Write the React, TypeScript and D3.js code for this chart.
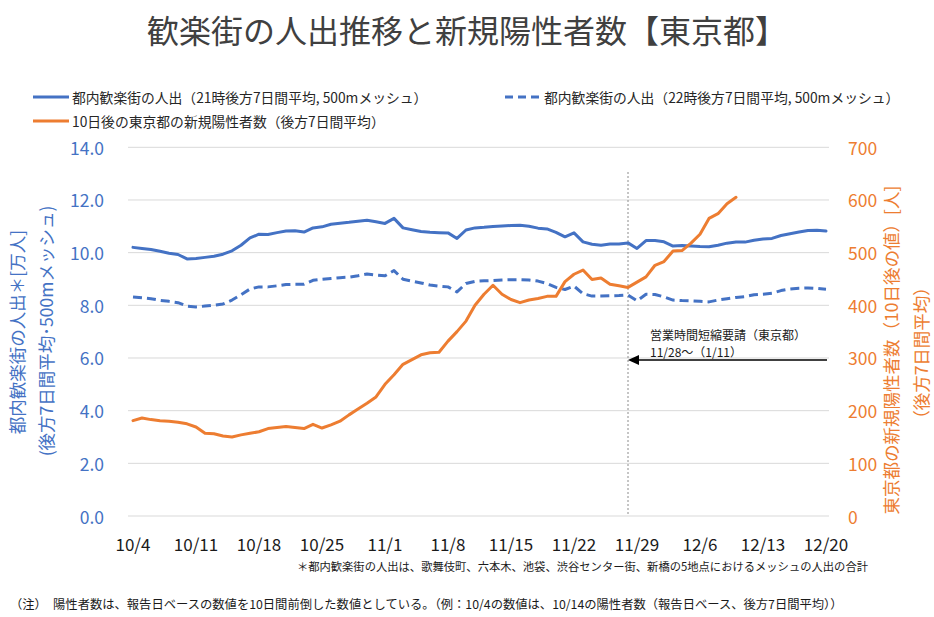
import React from "react";
import * as d3 from "d3";

// ---- data (daily, starting 10/4) ----
const xTickLabels = ["10/4", "10/11", "10/18", "10/25", "11/1", "11/8", "11/15", "11/22", "11/29", "12/6", "12/13", "12/20"];
const leftTicks = [0, 2, 4, 6, 8, 10, 12, 14];
const rightTicks = [0, 100, 200, 300, 400, 500, 600, 700];

// 都内歓楽街の人出（21時後方7日間平均）[万人] 10/4 .. 12/20
const crowd21 = [
  10.2, 10.16, 10.12, 10.05, 9.98, 9.93, 9.76, 9.78, 9.82, 9.86,
  9.94, 10.07, 10.28, 10.56, 10.7, 10.69, 10.76, 10.82, 10.83, 10.78,
  10.94, 10.98, 11.08, 11.12, 11.15, 11.19, 11.23, 11.17, 11.11, 11.3,
  10.94, 10.87, 10.8, 10.77, 10.76, 10.75, 10.54, 10.86, 10.94, 10.96,
  10.99, 11.01, 11.03, 11.04, 11.0, 10.93, 10.9, 10.77, 10.6, 10.75,
  10.41, 10.32, 10.28, 10.33, 10.33, 10.37, 10.16, 10.46, 10.46, 10.41,
  10.25, 10.27, 10.25, 10.23, 10.22, 10.28, 10.36, 10.4, 10.4, 10.47,
  10.52, 10.54, 10.65, 10.72, 10.78, 10.84, 10.85, 10.82,
];

// 都内歓楽街の人出（22時後方7日間平均）[万人]
const crowd22 = [
  8.32, 8.29, 8.25, 8.19, 8.15, 8.1, 7.97, 7.94, 7.97, 8.0,
  8.05, 8.2, 8.4, 8.62, 8.7, 8.7, 8.74, 8.79, 8.8, 8.8,
  8.95, 8.99, 9.02, 9.05, 9.07, 9.12, 9.19, 9.15, 9.12, 9.32,
  8.99, 8.92, 8.85, 8.77, 8.73, 8.7, 8.51, 8.83, 8.91, 8.93,
  8.94, 8.96, 8.97, 8.97, 8.96, 8.92, 8.83, 8.68, 8.6, 8.73,
  8.44, 8.35, 8.35, 8.36, 8.37, 8.39, 8.17, 8.42, 8.41, 8.32,
  8.2, 8.18, 8.17, 8.15, 8.13, 8.2, 8.25, 8.3, 8.33, 8.4,
  8.42, 8.46, 8.56, 8.62, 8.65, 8.66, 8.64, 8.61,
];

// 10日後の東京都の新規陽性者数（後方7日間平均）[人]
const cases = [
  181, 186, 183, 181, 180, 178, 175, 169, 157, 156,
  152, 150, 154, 157, 160, 166, 168, 170, 168, 166,
  174, 167, 173, 180, 192, 203, 214, 226, 250, 268,
  288, 297, 306, 310, 311, 332, 350, 370, 400, 421,
  438, 421, 411, 405, 410, 413, 417, 417, 445, 459,
  467, 449, 452, 440, 437, 434, 444, 454, 476, 483,
  503, 504, 518, 535, 565, 574, 593, 605,
];

const markerDay = 55; // 11/28

const BLUE = "#4472C4";
const ORANGE = "#ED7D31";
const FONT = "'Noto Sans CJK JP', 'Noto Sans', sans-serif";

export default function App() {
  const W = 934;
  const H = 617;
  const x = d3.scaleLinear().domain([0, 77]).range([133, 826]);
  const yL = d3.scaleLinear().domain([0, 14]).range([516, 147.3]);
  const yR = d3.scaleLinear().domain([0, 700]).range([516, 147.3]);

  const lineL = d3
    .line<number>()
    .x((_, i) => x(i))
    .y((d) => yL(d));
  const lineR = d3
    .line<number>()
    .x((_, i) => x(i))
    .y((d) => yR(d));

  const gx0 = 128;
  const gx1 = 829;

  return (
    <svg
      width={W}
      height={H}
      style={{ position: "absolute", left: 0, top: 0, background: "#fff" }}
      fontFamily={FONT}
    >
      <rect x={0} y={0} width={W} height={H} fill="#fff" />
      {/* title */}
      <text x={467} y={29} textAnchor="middle" dominantBaseline="central" fontSize={32} fill="#404040">
        歓楽街の人出推移と新規陽性者数【東京都】
      </text>

      {/* legend */}
      <line x1={33} x2={69} y1={97} y2={97} stroke={BLUE} strokeWidth={3} />
      <text x={72} y={97} dominantBaseline="central" fontSize={13.8} fill="#262626">
        都内歓楽街の人出（21時後方7日間平均, 500mメッシュ）
      </text>
      <line x1={505} x2={541} y1={97} y2={97} stroke={BLUE} strokeWidth={3} strokeDasharray="8,5" />
      <text x={544} y={97} dominantBaseline="central" fontSize={13.8} fill="#262626">
        都内歓楽街の人出（22時後方7日間平均, 500mメッシュ）
      </text>
      <line x1={33} x2={69} y1={121} y2={121} stroke={ORANGE} strokeWidth={3} />
      <text x={72} y={121} dominantBaseline="central" fontSize={13.8} fill="#262626">
        10日後の東京都の新規陽性者数（後方7日間平均）
      </text>

      {/* gridlines */}
      {leftTicks.map((t) => (
        <line key={"g" + t} x1={gx0} x2={gx1} y1={yL(t)} y2={yL(t)} stroke="#D9D9D9" strokeWidth={1} />
      ))}

      {/* left ticks */}
      {leftTicks.map((t) => (
        <text key={"l" + t} x={104} y={yL(t)} textAnchor="end" dominantBaseline="central" fontSize={17.5} fill={BLUE}>
          {d3.format(".1f")(t)}
        </text>
      ))}
      {/* right ticks */}
      {rightTicks.map((t) => (
        <text key={"r" + t} x={848} y={yR(t)} textAnchor="start" dominantBaseline="central" fontSize={17.5} fill={ORANGE}>
          {t}
        </text>
      ))}
      {/* x ticks */}
      {xTickLabels.map((lab, i) => (
        <text key={"x" + lab} x={x(i * 7)} y={543} textAnchor="middle" dominantBaseline="central" fontSize={17} fill="#1a1a1a">
          {lab}
        </text>
      ))}

      {/* axis titles */}
      <g transform="translate(16,332) rotate(-90)">
        <text textAnchor="middle" dominantBaseline="central" fontSize={17.5} fill={BLUE}>
          都内歓楽街の人出＊[万人]
        </text>
      </g>
      <g transform="translate(45,331) rotate(-90)">
        <text textAnchor="middle" dominantBaseline="central" fontSize={17.5} fill={BLUE}>
          (後方7日間平均･500mメッシュ)
        </text>
      </g>
      <g transform="translate(890,350) rotate(-90)">
        <text textAnchor="middle" dominantBaseline="central" fontSize={17.5} fill={ORANGE}>
          東京都の新規陽性者数（10日後の値）[人]
        </text>
      </g>
      <g transform="translate(920,353) rotate(-90)">
        <text textAnchor="middle" dominantBaseline="central" fontSize={17.5} fill={ORANGE}>
          （後方7日間平均）
        </text>
      </g>

      {/* marker vertical line */}
      <line x1={x(markerDay)} x2={x(markerDay)} y1={172} y2={516} stroke="#8c8c8c" strokeWidth={1} strokeDasharray="2,2" />

      {/* series */}
      <path d={lineL(crowd21) || ""} fill="none" stroke={BLUE} strokeWidth={3} strokeLinejoin="round" strokeLinecap="round" />
      <path d={lineL(crowd22) || ""} fill="none" stroke={BLUE} strokeWidth={3} strokeDasharray="9,5" strokeLinejoin="round" />
      <path d={lineR(cases) || ""} fill="none" stroke={ORANGE} strokeWidth={3} strokeLinejoin="round" strokeLinecap="round" />

      {/* annotation */}
      <text x={650} y={334} dominantBaseline="central" fontSize={12} fill="#1a1a1a">
        営業時間短縮要請（東京都）
      </text>
      <text x={650} y={351} dominantBaseline="central" fontSize={12} fill="#1a1a1a">
        11/28～（1/11）
      </text>
      <line x1={827} x2={x(markerDay) + 8} y1={360} y2={360} stroke="#000" strokeWidth={1.5} />
      <path
        d={`M${x(markerDay)},360 L${x(markerDay) + 11},355 L${x(markerDay) + 11},365 Z`}
        fill="#000"
      />

      {/* footnotes */}
      <text x={868} y={566} textAnchor="end" dominantBaseline="central" fontSize={11.3} fill="#1a1a1a">
        ＊都内歓楽街の人出は、歌舞伎町、六本木、池袋、渋谷センター街、新橋の5地点におけるメッシュの人出の合計
      </text>
      <text x={10} y={604} dominantBaseline="central" fontSize={12.3} fill="#1a1a1a">
        （注）　陽性者数は、報告日ベースの数値を10日間前倒した数値としている。（例：10/4の数値は、10/14の陽性者数（報告日ベース、後方7日間平均））
      </text>
    </svg>
  );
}
